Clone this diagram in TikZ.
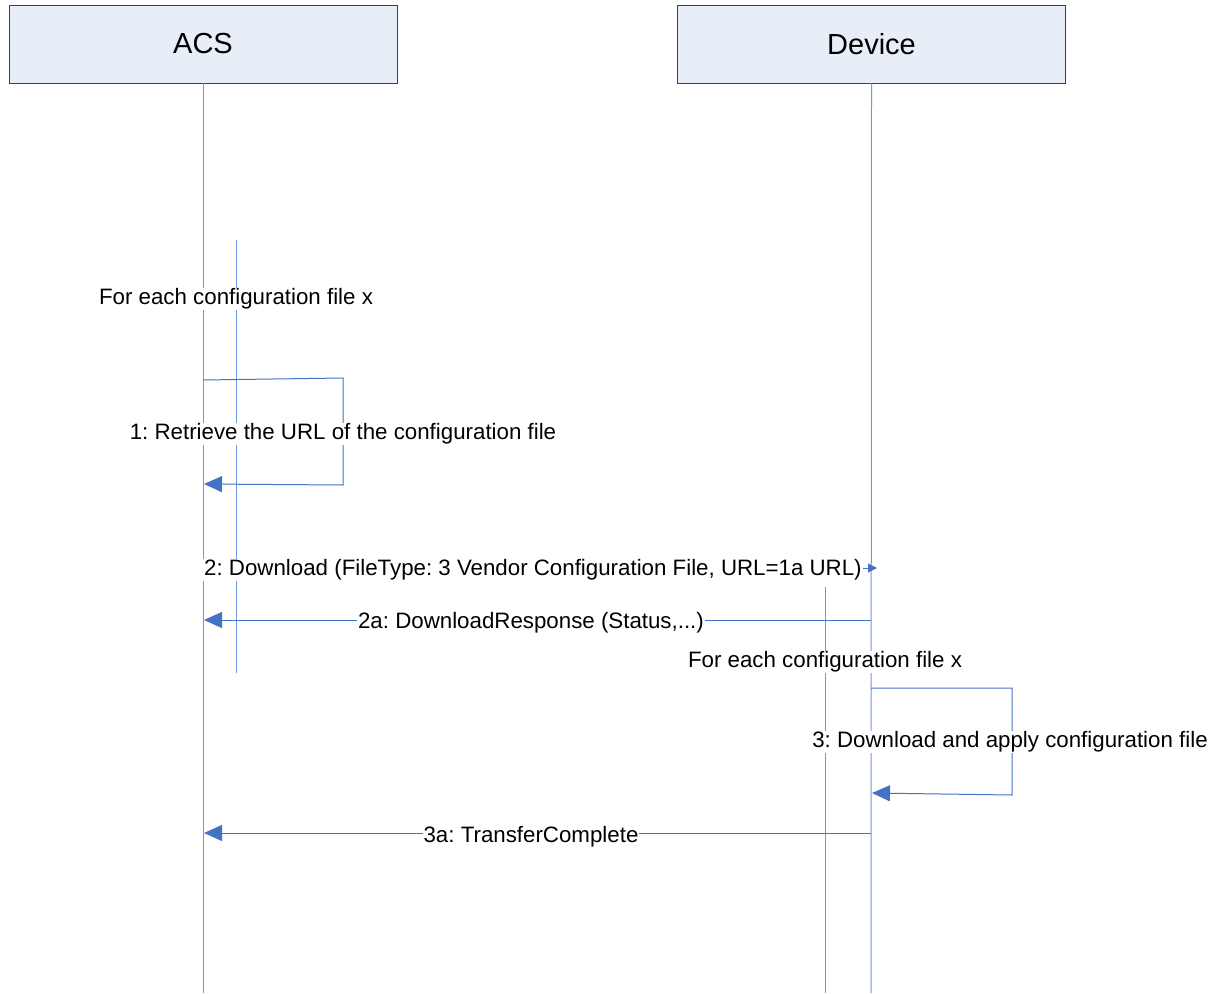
\documentclass[tikz,border=0pt]{standalone}
\usepackage{fontspec}
\setmainfont{Liberation Sans}
\usetikzlibrary{arrows.meta}
\definecolor{boxfill}{RGB}{232,238,247}
\definecolor{boxdraw}{RGB}{64,64,64}
\definecolor{life}{RGB}{110,150,225}
\definecolor{msg}{RGB}{68,114,196}
\begin{document}
\frenchspacing
\begin{tikzpicture}[x=1pt,y=-1pt,
  actor/.style={draw=boxdraw,fill=boxfill,line width=0.8pt,minimum width=388pt,minimum height=78pt,inner sep=0pt,font=\fontsize{29}{32}\selectfont},
  lifeline/.style={draw=life,line width=1pt},
  msgline/.style={draw=msg,line width=1pt},
  bigtip/.style={-{Triangle[length=18pt,width=16pt]}},
  smalltip/.style={-{Triangle[length=9pt,width=9pt]}},
  lbl/.style={fill=white,inner sep=1pt,font=\fontsize{22.3}{25}\selectfont}]
\useasboundingbox (0,0) rectangle (1217,993);
\node[actor] (acs) at (203,44) {ACS};
\node[actor] (dev) at (871.5,44) {Device};
\coordinate (acsEnd) at (203,993);
\coordinate (devEnd) at (871,993);
\draw[lifeline] (acs.south) -- (acsEnd);
\draw[lifeline] (dev.south) -- (devEnd);
% activation lines
\coordinate (a1) at (236,240);
\coordinate (a2) at (236,673);
\coordinate (b1) at (825,587);
\coordinate (b2) at (825,993);
\draw[lifeline] (a1) -- (a2);
\draw[lifeline] (b1) -- (b2);
\node[lbl] (loop1) at (236,299) {For each configuration file x};
% message 1
\coordinate (m1s) at (203,380);
\coordinate (m1a) at (343,378);
\coordinate (m1b) at (343,485);
\coordinate (m1e) at (204,484);
\draw[msgline,bigtip] (m1s) -- (m1a) -- (m1b) -- (m1e);
\node[lbl] (l1) at (343,434) {1: Retrieve the URL of the configuration file};
% message 2
\coordinate (m2s) at (203,568);
\coordinate (m2e) at (877,568);
\draw[msgline,smalltip] (m2s) -- (m2e);
\node[lbl] (l2) at (533,570) {2: Download (FileType: 3 Vendor Configuration File, URL=1a URL)};
% message 2a
\coordinate (m2as) at (871,620);
\coordinate (m2ae) at (204,620);
\draw[msgline,bigtip] (m2as) -- (m2ae);
\node[lbl] (l2a) at (531,623) {2a: DownloadResponse (Status,...)};
\node[lbl] (loop2) at (825,662) {For each configuration file x};
% message 3
\coordinate (m3s) at (871,688);
\coordinate (m3a) at (1012,688);
\coordinate (m3b) at (1012,795);
\coordinate (m3e) at (872,793);
\draw[msgline,bigtip] (m3s) -- (m3a) -- (m3b) -- (m3e);
\node[lbl] (l3) at (1010,742) {3: Download and apply configuration file};
% message 3a
\coordinate (m3as) at (871,833);
\coordinate (m3ae) at (204,833);
\draw[msgline,bigtip] (m3as) -- (m3ae);
\node[lbl] (l3a) at (531,837) {3a: TransferComplete};
\end{tikzpicture}
\end{document}
